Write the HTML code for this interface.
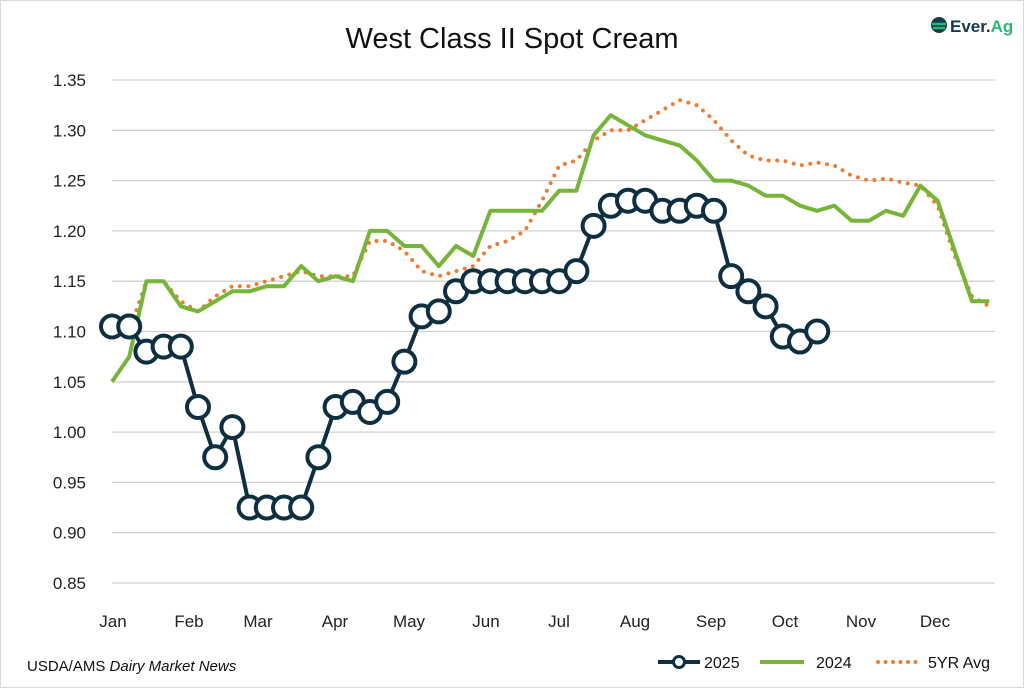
<!DOCTYPE html>
<html><head><meta charset="utf-8"><style>
body{margin:0;background:#fff}
svg{display:block;font-family:"Liberation Sans",sans-serif}
</style></head><body>
<svg id="s" width="1024" height="688" xmlns="http://www.w3.org/2000/svg">
<rect x="0.5" y="0.5" width="1023" height="687" fill="#fff" stroke="#d9d9d9"/>
<text x="512" y="48" font-size="29" text-anchor="middle" fill="#111">West Class II Spot Cream</text>
<g transform="translate(930,16)">
<circle cx="9" cy="9" r="8" fill="#153a4a"/>
<path d="M2 8 H16 M3 12 H15" stroke="#2bb673" stroke-width="2.5"/>
<text x="20" y="16" font-size="17" font-weight="bold" fill="#153a4a">Ever.<tspan fill="#2bb673">Ag</tspan></text>
</g>
<g id="grid"></g>
<g id="ylab" font-size="17" fill="#222" text-anchor="end"></g>
<g id="xlab" font-size="17" fill="#222" text-anchor="middle"></g>
<g id="series"></g>
<text x="27" y="671" font-size="15" fill="#111">USDA/AMS <tspan font-style="italic">Dairy Market News</tspan></text>
<line x1="658" y1="662" x2="700" y2="662" stroke="#0d2f40" stroke-width="4"/>
<circle cx="679" cy="662" r="5.5" fill="#fff" stroke="#0d2f40" stroke-width="3"/>
<text x="704" y="668" font-size="16" fill="#111">2025</text>
<line x1="760" y1="662" x2="804" y2="662" stroke="#76b53a" stroke-width="4"/>
<text x="816" y="668" font-size="16" fill="#111">2024</text>
<line x1="878" y1="662" x2="918" y2="662" stroke="#ed7d31" stroke-width="4" stroke-dasharray="0 7.5" stroke-linecap="round"/>
<text x="928" y="668" font-size="16" fill="#111">5YR Avg</text>
</svg>
<script>
const NS="http://www.w3.org/2000/svg";
function el(t,a,p){const e=document.createElementNS(NS,t);for(const k in a)e.setAttribute(k,a[k]);p.appendChild(e);return e;}
const Y=v=>583-(v-0.85)*1006, X=i=>112+i*17.2;
const g=document.getElementById('grid'),yl=document.getElementById('ylab'),xl=document.getElementById('xlab'),s=document.getElementById('series');
for(let k=0;k<=10;k++){const v=0.85+k*0.05,y=Y(v);el('line',{x1:112,x2:995,y1:y,y2:y,stroke:'#d0d0d0','stroke-width':1.3},g);
const t=el('text',{x:86,y:y+6},yl);t.textContent=v.toFixed(2);}
const m=[["Jan",113],["Feb",189],["Mar",258],["Apr",335],["May",409],["Jun",486],["Jul",559],["Aug",635],["Sep",711],["Oct",785],["Nov",861],["Dec",935]];
m.forEach(([n,x])=>{const t=el('text',{x:x,y:627},xl);t.textContent=n;});
const avg=[1.11,1.10,1.15,1.15,1.13,1.12,1.135,1.145,1.145,1.15,1.155,1.16,1.155,1.155,1.155,1.19,1.19,1.18,1.16,1.155,1.16,1.165,1.185,1.19,1.20,1.23,1.265,1.27,1.29,1.30,1.30,1.31,1.32,1.33,1.325,1.31,1.29,1.275,1.27,1.27,1.265,1.268,1.265,1.255,1.25,1.252,1.248,1.245,1.225,1.175,1.135,1.125];
const y24=[1.05,1.075,1.15,1.15,1.125,1.12,1.13,1.14,1.14,1.145,1.145,1.165,1.15,1.155,1.15,1.20,1.20,1.185,1.185,1.165,1.185,1.175,1.22,1.22,1.22,1.22,1.24,1.24,1.295,1.315,1.305,1.295,1.29,1.285,1.27,1.25,1.25,1.245,1.235,1.235,1.225,1.22,1.225,1.21,1.21,1.22,1.215,1.245,1.23,1.18,1.13,1.13];
const y25=[1.105,1.105,1.08,1.085,1.085,1.025,0.975,1.005,0.925,0.925,0.925,0.925,0.975,1.025,1.03,1.02,1.03,1.07,1.115,1.12,1.14,1.15,1.15,1.15,1.15,1.15,1.15,1.16,1.205,1.225,1.23,1.23,1.22,1.22,1.225,1.22,1.155,1.14,1.125,1.095,1.09,1.10];
const pts=a=>a.map((v,i)=>X(i).toFixed(1)+','+Y(v).toFixed(1)).join(' ');
el('polyline',{points:pts(avg),fill:'none',stroke:'#ed7d31','stroke-width':4,'stroke-dasharray':'0 8.5','stroke-linecap':'round'},s);
el('polyline',{points:pts(y24),fill:'none',stroke:'#76b53a','stroke-width':4,'stroke-linejoin':'round'},s);
el('polyline',{points:pts(y25),fill:'none',stroke:'#0d2f40','stroke-width':4,'stroke-linejoin':'round'},s);
y25.forEach((v,i)=>el('circle',{cx:X(i),cy:Y(v),r:11,fill:'#fff',stroke:'#0d2f40','stroke-width':4},s));
</script>
</body></html>
